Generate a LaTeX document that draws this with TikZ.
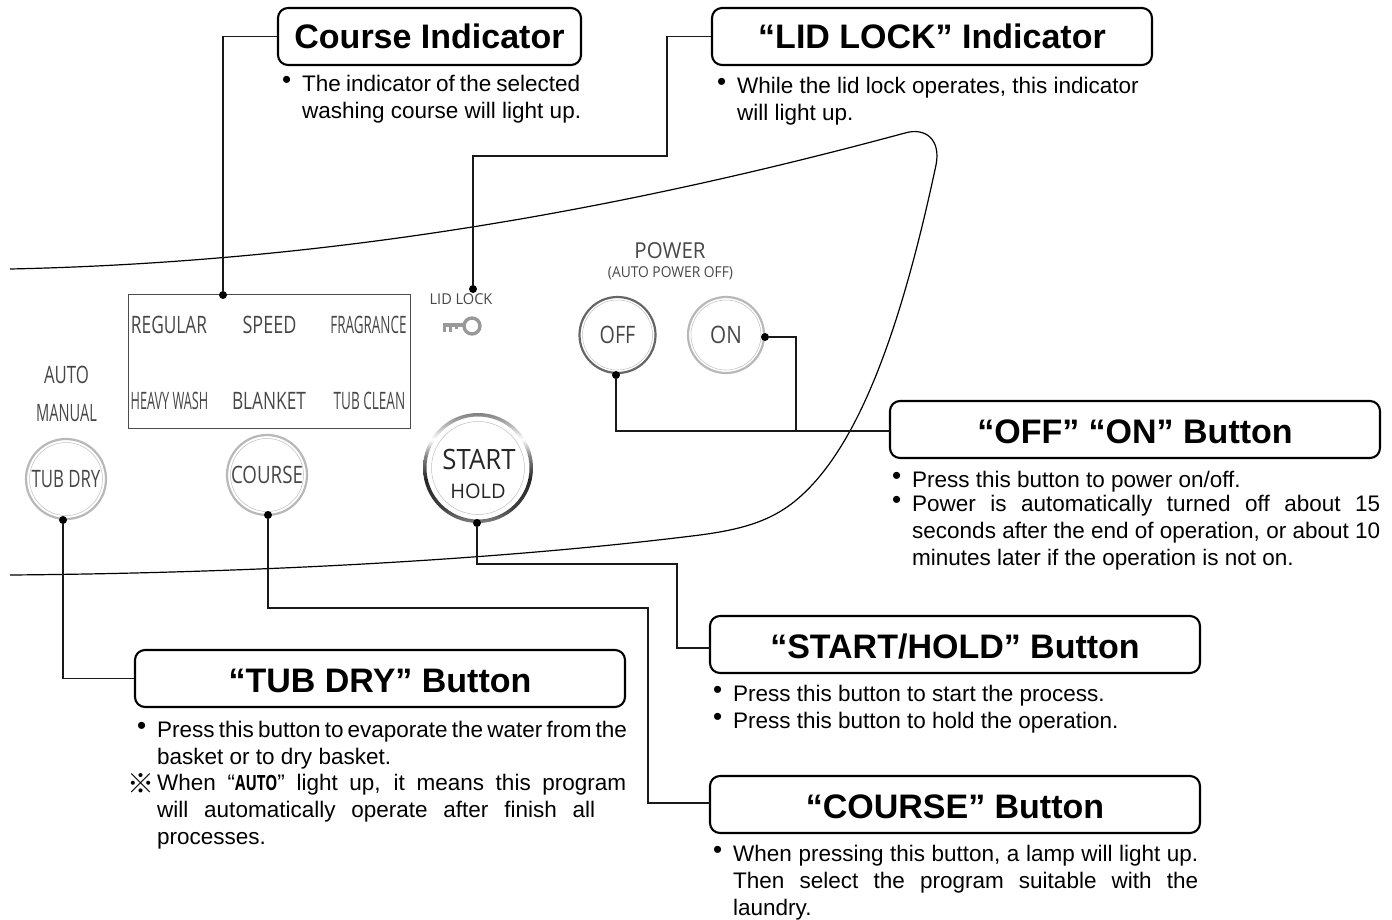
\documentclass[tikz,border=0pt]{standalone}
\usepackage{fontspec}
\setmainfont{Liberation Sans}
\newfontfamily\panelfont{Open Sans}
\newfontfamily\markfont{Noto Sans CJK SC}
\usetikzlibrary{positioning}
\definecolor{paneltext}{gray}{0.28}
\definecolor{ringgray}{gray}{0.72}
\definecolor{keygray}{gray}{0.6}
\newcommand{\fs}[2]{\fontsize{#1}{#2}\selectfont}
\newcommand{\bul}{\leavevmode\llap{\raisebox{3pt}{\fs{26}{20}•}\hspace{11pt}}}
\newcommand{\fit}[2]{\makebox[#1pt][s]{#2}}
\newcommand{\sq}[2]{\scalebox{#1}[1]{#2}}
\pgfdeclareverticalshading{startring}{100bp}{color(0bp)=(black!50);color(25bp)=(black!50);color(32bp)=(black!75);color(45bp)=(black!85);color(56bp)=(black!45);color(63bp)=(white);color(70bp)=(black!30);color(75bp)=(black!50);color(100bp)=(black!50)}

\begin{document}
\begin{tikzpicture}[
    x=1pt,
    y=-1pt,
    mydot/.style={
      circle,
      fill,
      inner sep=0pt,
      minimum size=8pt
    },
    wire/.style={
      line width=1.9pt,
      draw=black!90
    },
    titlebox/.style={
      draw,
      fill=white,
      line width=2.1pt,
      rounded corners=10pt,
      minimum height=57pt,
      inner sep=0pt,
      font=\bfseries\fs{34}{38}
    },
    lowtitle/.style={
      text height=27.5pt,
      text depth=0pt
    },
    bodytext/.style={
      anchor=north west,
      inner sep=0pt,
      align=left,
      font=\fs{22.5}{27}
    },
    paneltxt/.style={
      inner sep=0pt,
      text=paneltext,
      font=\panelfont\fs{24}{28}
    },
    roundbtn/.style={
      circle,
      draw=ringgray,
      line width=2.2pt,
      inner sep=0pt,
      minimum size=80pt,
      text=paneltext,
      font=\panelfont\fs{24}{28}
    }
    ]
    \useasboundingbox (0,0) rectangle (1392,919);

    % panel outline
    \draw[line width=1.2pt] (10,269) .. controls (330,262) and (620,210) .. (905,133)
      .. controls (926,127) and (941,140) .. (936,165)
      .. controls (903,320) and (862,440) .. (802,495)
      .. controls (775,520) and (745,529) .. (700,535)
      .. controls (500,560) and (250,573) .. (10,575);

    % course lamps
    \node[draw=black!70,line width=0.9pt,minimum width=282pt,minimum height=134pt,inner sep=0pt] (lamps) at (269.5,361) {};
    \node[paneltxt] (regular) at (169,325) {\sq{.72}{REGULAR}};
    \node[paneltxt] (speed) at (269.5,325) {\sq{.75}{SPEED}};
    \node[paneltxt] (fragrance) at (368.5,325) {\sq{.56}{FRAGRANCE}};
    \node[paneltxt] (heavy) at (169.5,401) {\sq{.53}{HEAVY WASH}};
    \node[paneltxt] (blanket) at (269,401) {\sq{.72}{BLANKET}};
    \node[paneltxt] (tubclean) at (369.5,401) {\sq{.565}{TUB CLEAN}};

    \node[paneltxt] (auto) at (66.5,375) {\sq{.7}{AUTO}};
    \node[paneltxt] (manual) at (66.5,413) {\sq{.61}{MANUAL}};
    \node[paneltxt,font=\panelfont\fs{15}{18}] (lidlock) at (461,299) {\sq{.97}{LID LOCK}};

    % key
    \draw[keygray,line width=3.4pt] (472,326) circle (8pt);
    \draw[keygray,line width=4pt] (463,325) -- (443,325);
    \draw[keygray,line width=3pt] (444.5,325) -- (444.5,332) (450.5,325) -- (450.5,332);
    \draw[keygray,line width=3pt] (456,325) -- (456,329);

    \node[paneltxt,font=\panelfont\fs{22}{26}] (power) at (670,251) {\sq{.93}{POWER}};
    \node[paneltxt,font=\panelfont\fs{15}{18}] (autooff) at (670.5,273) {\sq{.92}{(AUTO POWER OFF)}};

    % buttons
    \node[roundbtn] (tubdry) at (66,479) {\sq{.7}{TUB DRY}};
    \node[roundbtn] (course) at (267,475) {\sq{.78}{COURSE}};
    \node[roundbtn,draw=black!60,minimum size=76pt] (off) at (617.5,335) {\sq{.82}{OFF}};
    \node[roundbtn,minimum size=76pt] (on) at (726,335) {\sq{.86}{ON}};
    \node[circle,minimum size=110pt,inner sep=0pt] (start) at (478,468) {};
    \shade[shading=startring,even odd rule]
      (start.center) circle (55pt) (start.center) circle (51.5pt);
    \draw[black!25,line width=0.5pt] (start.center) circle (46.5pt);
    \node[paneltxt,text=black!85,font=\panelfont\fs{28}{32}] (starttxt) at (479,459) {\sq{.92}{START}};
    \node[paneltxt,text=black!85,font=\panelfont\fs{20}{24}] (holdtxt) at (478,491) {HOLD};
    \foreach \btn/\rad in {tubdry/36.5,course/36.5,off/35,on/35}
      \draw[black!25,line width=0.5pt] (\btn.center) circle (\rad pt);

    % title boxes
    \node[titlebox,minimum width=303pt] (coursebox) at (429.5,36.5) {Course Indicator};
    \node[titlebox,minimum width=440pt] (lidbox) at (932,36.5) {“LID LOCK” Indicator};
    \node[titlebox,lowtitle,minimum width=490pt] (onoffbox) at (1135,429.5) {“OFF” “ON” Button};
    \node[titlebox,lowtitle,minimum width=490pt] (startbox) at (955,644.5) {“START/HOLD” Button};
    \node[titlebox,lowtitle,minimum width=490pt] (coursebtnbox) at (955,804.5) {“COURSE” Button};
    \node[titlebox,lowtitle,minimum width=490pt] (tubbox) at (380,678.5) {“TUB DRY” Button};

    % pins
    \node[mydot] (pinlamps) at (223,295) {};
    \node[mydot] (pinlid) at (473,289) {};
    \node[mydot] (pinoff) at (616,375) {};
    \node[mydot] (pinon) at (765,337) {};
    \node[mydot] (pinstart) at (477,523) {};
    \node[mydot] (pincourse) at (268,515) {};
    \node[mydot] (pintub) at (63,520) {};

    % bends
    \coordinate (lidbend) at (667,156);
    \coordinate (onbend) at (796,431);
    \coordinate (startbend) at (677,564);
    \coordinate (startend) at (710,648);
    \coordinate (coursebend) at (648,608);
    \coordinate (courseend) at (710,803);
    \coordinate (offend) at (890,431);

    \draw[wire] (pinlamps) |- (coursebox.west);
    \draw[wire] (pinlid) |- (lidbend) |- (lidbox.west);
    \draw[wire] (pinoff) |- (offend);
    \draw[wire] (pinon) -| (onbend);
    \draw[wire] (pinstart) |- (startbend) |- (startend);
    \draw[wire] (pincourse) |- (coursebend) |- (courseend);
    \draw[wire] (pintub) |- (tubbox.west);

    % texts
    \node[bodytext] (coursetxt) at (302,75) {\bul\fit{278}{The indicator of the selected}\\washing course will light up.};
    \node[bodytext] (lidtxt) at (737,77) {\bul While the lid lock operates, this indicator\\will light up.};
    \node[bodytext] (onofftxt) at (912,471) {\bul Press this button to power on/off.\\[-3.5pt]
      \bul\fit{468}{Power is automatically turned off about 15}\\
      \fit{468}{seconds after the end of operation, or about 10}\\
      minutes later if the operation is not on.};
    \node[bodytext] (starttxtb) at (733,685) {\bul Press this button to start the process.\\\bul Press this button to hold the operation.};
    \node[bodytext] (coursetxtb) at (733,845) {\bul\fit{465}{When pressing this button, a lamp will light up.}\\
      \fit{465}{Then select the program suitable with the}\\laundry.};
    \node[bodytext] (tubtxt) at (157,721) {\bul\fit{469}{Press this button to evaporate the water from the}\\
      basket or to dry basket.\\[-1pt]
      \leavevmode\llap{\markfont\fs{27}{27}\raisebox{-3pt}{※}\hspace{3pt}}\fit{469}{When “{\panelfont\bfseries\fs{21}{27}\sq{.72}{AUTO}}” light up, it means this program}\\
      \fit{438}{will automatically operate after finish all}\\
      processes.};
\end{tikzpicture}
\end{document}
